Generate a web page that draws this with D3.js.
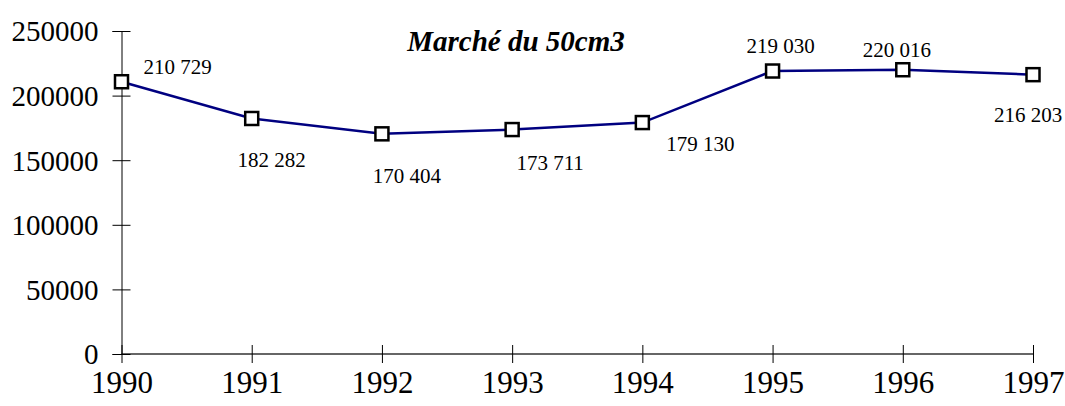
<!DOCTYPE html>
<html lang="fr">
<head>
<meta charset="UTF-8">
<title>Marché du 50cm3</title>
<script src="https://d3js.org/d3.v7.min.js"></script>
<style>
    body { margin: 0; background: #fff; }
    svg { display: block; font-family: "Liberation Serif", "Times New Roman", serif; }
    .yAxis path, .yAxis line { stroke: #000; stroke-width: 1; }
    .xAxis path { stroke: #666; stroke-width: 2; }
    .xAxis line { stroke: #000; stroke-width: 1; }
    .yAxis text { font-size: 29px; fill: #000; }
    .xAxis text { font-size: 31px; fill: #000; }
    .valLabel { font-size: 21px; fill: #000; }
</style>
</head>
<body>
<script>
    // données
    let years = [1990, 1991, 1992, 1993, 1994, 1995, 1996, 1997];
    let ventes = [210729, 182282, 170404, 173711, 179130, 219030, 220016, 216203];
    let yTicks = [0, 50000, 100000, 150000, 200000, 250000];
    let labels = ["210 729", "182 282", "170 404", "173 711", "179 130", "219 030", "220 016", "216 203"];

    // décalage des étiquettes (dx, dy) par rapport au point
    let labelDx = [56, 20, 25, 38, 58, 8, -6, -5];
    let labelDy = [-8, 49, 49, 40, 28, -18, -13, 47];

    let width = 1065, height = 406;

    let svg = d3.select("body").append("svg")
        .attr("width", width)
        .attr("height", height);

    let x = d3.scaleLinear().domain([1990, 1997]).range([121.5, 1033]);
    let y = d3.scaleLinear().domain([0, 250000]).range([354, 31]);

    /* axe X */
    let gx = svg.append("g")
        .attr("class", "xAxis")
        .attr("transform", `translate(0, ${y(0)})`)
        .call(d3.axisBottom(x).tickValues(years).tickFormat(d3.format("d")).tickSizeOuter(0).tickSize(9).tickPadding(8))
        .attr("font-family", null)
        .attr("font-size", null);
    gx.selectAll(".tick line").attr("y1", -9).attr("y2", 9);
    gx.select(".domain").attr("d", `M${x(1990)},0H${x(1997)}`);

    /* axe Y */
    let gy = svg.append("g")
        .attr("class", "yAxis")
        .attr("transform", `translate(${x(1990)}, 0)`)
        .call(d3.axisLeft(y).tickValues(yTicks).tickFormat(d3.format("d")).tickSizeOuter(0).tickSize(9).tickPadding(15))
        .attr("font-family", null)
        .attr("font-size", null);
    gy.selectAll(".tick line").attr("x1", 9).attr("x2", -9);
    gy.selectAll(".tick text").attr("x", -23).attr("dy", "0.34em");

    /* courbe */
    let line = d3.line()
        .x((d, i) => x(years[i]))
        .y(d => y(d));

    svg.append("path")
        .datum(ventes)
        .attr("d", line)
        .attr("fill", "none")
        .attr("stroke", "#000080")
        .attr("stroke-width", 2.5);

    /* marqueurs */
    svg.selectAll(".marker")
        .data(ventes)
        .enter()
        .append("rect")
        .attr("class", "marker")
        .attr("x", (d, i) => x(years[i]) - 6.5)
        .attr("y", d => y(d) - 6.5)
        .attr("width", 13)
        .attr("height", 13)
        .attr("fill", "#fff")
        .attr("stroke", "#000")
        .attr("stroke-width", 2.5);

    /* étiquettes de valeurs */
    svg.selectAll(".valLabel")
        .data(ventes)
        .enter()
        .append("text")
        .attr("class", "valLabel")
        .attr("text-anchor", "middle")
        .attr("x", (d, i) => x(years[i]) + labelDx[i])
        .attr("y", (d, i) => y(d) + labelDy[i])
        .text((d, i) => labels[i]);

    /* titre */
    svg.append("text")
        .attr("x", 516)
        .attr("y", 51)
        .attr("text-anchor", "middle")
        .style("font-size", "29px")
        .style("font-weight", "bold")
        .style("font-style", "italic")
        .text("Marché du 50cm3");
</script>
</body>
</html>
